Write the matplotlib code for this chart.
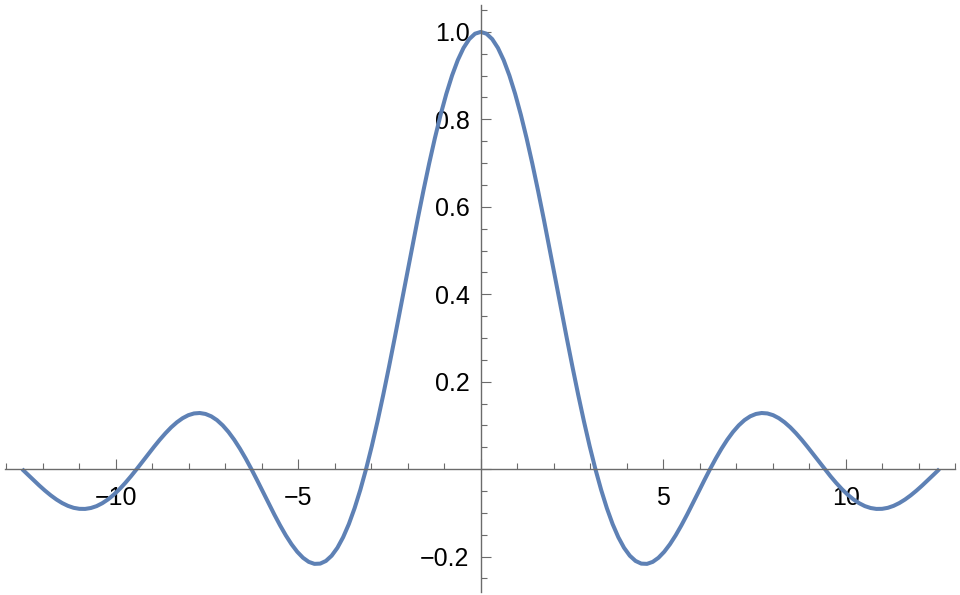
import matplotlib
matplotlib.use("Agg")
import matplotlib.pyplot as plt
from matplotlib.ticker import MultipleLocator, FuncFormatter
import numpy as np

# sample points (right half, the curve is symmetric)
x_right = np.linspace(0, 12.566, 81)
y_right = [1.0, 0.9959, 0.9836, 0.9634, 0.9355, 0.9003, 0.8584, 0.8103, 0.7568, 0.6987,
           0.6366, 0.5716, 0.5045, 0.4363, 0.3679, 0.3001, 0.2339, 0.1700, 0.1093, 0.0524,
           0.0, -0.0474, -0.0894, -0.1257, -0.1559, -0.1801, -0.1981, -0.2101, -0.2162, -0.2168,
           -0.2122, -0.2028, -0.1892, -0.1719, -0.1515, -0.1286, -0.1039, -0.0781, -0.0518, -0.0255,
           0.0, 0.0243, 0.0468, 0.0672, 0.0850, 0.1000, 0.1120, 0.1207, 0.1261, 0.1283,
           0.1273, 0.1233, 0.1164, 0.1070, 0.0954, 0.0818, 0.0668, 0.0507, 0.0339, 0.0169,
           0.0, -0.0163, -0.0317, -0.0459, -0.0585, -0.0693, -0.0780, -0.0847, -0.0890, -0.0911,
           -0.0909, -0.0886, -0.0841, -0.0777, -0.0696, -0.0600, -0.0492, -0.0375, -0.0252, -0.0126,
           0.0]

x_vals = np.concatenate([-x_right[::-1], x_right[1:]])
y_vals = np.concatenate([np.array(y_right)[::-1], np.array(y_right)[1:]])

plt.rcParams['font.family'] = ['Liberation Sans', 'DejaVu Sans']

fig = plt.figure(figsize=(9.6, 5.95), dpi=100)
ax = fig.add_axes([0, 0, 1, 1])
ax.patch.set_alpha(0)

ax.plot(x_vals, y_vals, color="#5E81B5", linewidth=2.9, solid_joinstyle="round",
        solid_capstyle="butt", clip_on=False)

ax.set_xlim(-13.17, 13.13)
ax.set_ylim(-0.288, 1.073)

axis_col = "#6b6b6b"
for s in ["top", "right"]:
    ax.spines[s].set_visible(False)
ax.spines["left"].set_position(("data", 0))
ax.spines["bottom"].set_position(("data", 0))
ax.spines["left"].set_bounds(-0.282, 1.062)
ax.spines["bottom"].set_bounds(-13.03, 13.0)
for s in ["left", "bottom"]:
    ax.spines[s].set_color(axis_col)
    ax.spines[s].set_linewidth(1.0)

ax.xaxis.set_major_locator(MultipleLocator(5))
ax.xaxis.set_minor_locator(MultipleLocator(1))
ax.yaxis.set_major_locator(MultipleLocator(0.2))
ax.yaxis.set_minor_locator(MultipleLocator(0.05))

def fmt_x(v, pos):
    if abs(v) < 1e-9:
        return ""
    return "\u2212%d" % abs(v) if v < 0 else "%d" % v

def fmt_y(v, pos):
    if abs(v) < 1e-9:
        return ""
    return "\u2212%.1f" % abs(v) if v < 0 else "%.1f" % v

ax.xaxis.set_major_formatter(FuncFormatter(fmt_x))
ax.yaxis.set_major_formatter(FuncFormatter(fmt_y))

# x ticks point upward, y ticks point right
ax.tick_params(axis="x", which="major", direction="in", length=7, width=0.8, color=axis_col,
               labelsize=18, pad=12)
ax.tick_params(axis="x", which="minor", direction="in", length=4, width=0.8, color=axis_col)
ax.tick_params(axis="y", which="major", direction="in", length=7, width=0.8, color=axis_col,
               labelsize=18, pad=8)
ax.tick_params(axis="y", which="minor", direction="in", length=4, width=0.8, color=axis_col)

fig.savefig("out.png", dpi=100)
